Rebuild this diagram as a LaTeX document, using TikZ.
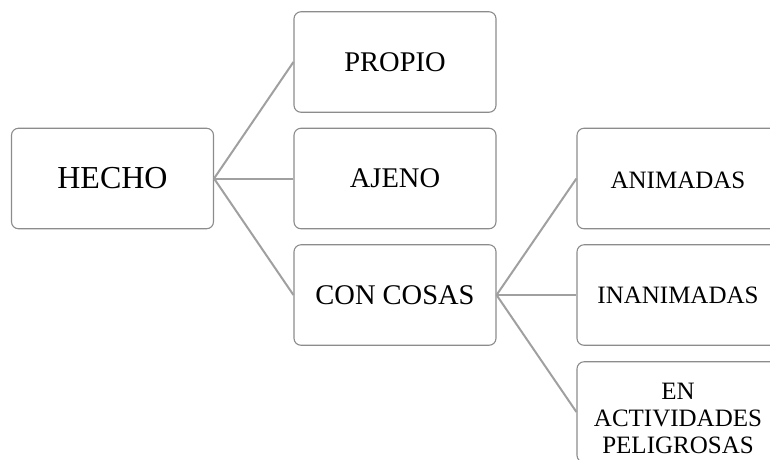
\documentclass[tikz,border=0pt]{standalone}
\usepackage{fontspec}
\setmainfont{Liberation Serif}
\definecolor{boxline}{HTML}{8C8C8C}
\definecolor{conn}{HTML}{A0A0A0}
\tikzset{
  box/.style={draw=boxline, line width=1.1pt, rounded corners=7pt, fill=white,
    minimum width=202pt, minimum height=100.5pt, inner sep=0pt, align=center, text=black},
  lvlA/.style={box, font=\fontsize{32}{36}\selectfont},
  lvlB/.style={box, font=\fontsize{28.5}{32}\selectfont},
  lvlC/.style={box, font=\fontsize{25}{28.3}\selectfont},
  conn/.style={draw=conn, line width=2pt}
}
\begin{document}
\begin{tikzpicture}[x=1pt, y=-1pt]
\useasboundingbox (0,0) rectangle (770,459);
\clip (0,0) rectangle (770,459);
\node[lvlA] (hecho) at (112.5,178.5) {HECHO};
\node[lvlB] (propio) at (395,62) {PROPIO};
\node[lvlB] (ajeno) at (395,178.5) {AJENO};
\node[lvlB] (cosas) at (395,295) {CON COSAS};
\node[lvlC] (anim) at (678,178.5) {\rule{0pt}{21pt}ANIMADAS};
\node[lvlC] (inan) at (678,295) {INANIMADAS};
\node[lvlC] (peli) at (678,412) {\rule{0pt}{29pt}EN\\[-1pt]ACTIVIDADES\\[-1pt]PELIGROSAS};
\draw[conn] (hecho.east) -- (propio.west);
\draw[conn] (hecho.east) -- (ajeno.west);
\draw[conn] (hecho.east) -- (cosas.west);
\draw[conn] (cosas.east) -- (anim.west);
\draw[conn] (cosas.east) -- (inan.west);
\draw[conn] (cosas.east) -- (peli.west);
\end{tikzpicture}
\end{document}
